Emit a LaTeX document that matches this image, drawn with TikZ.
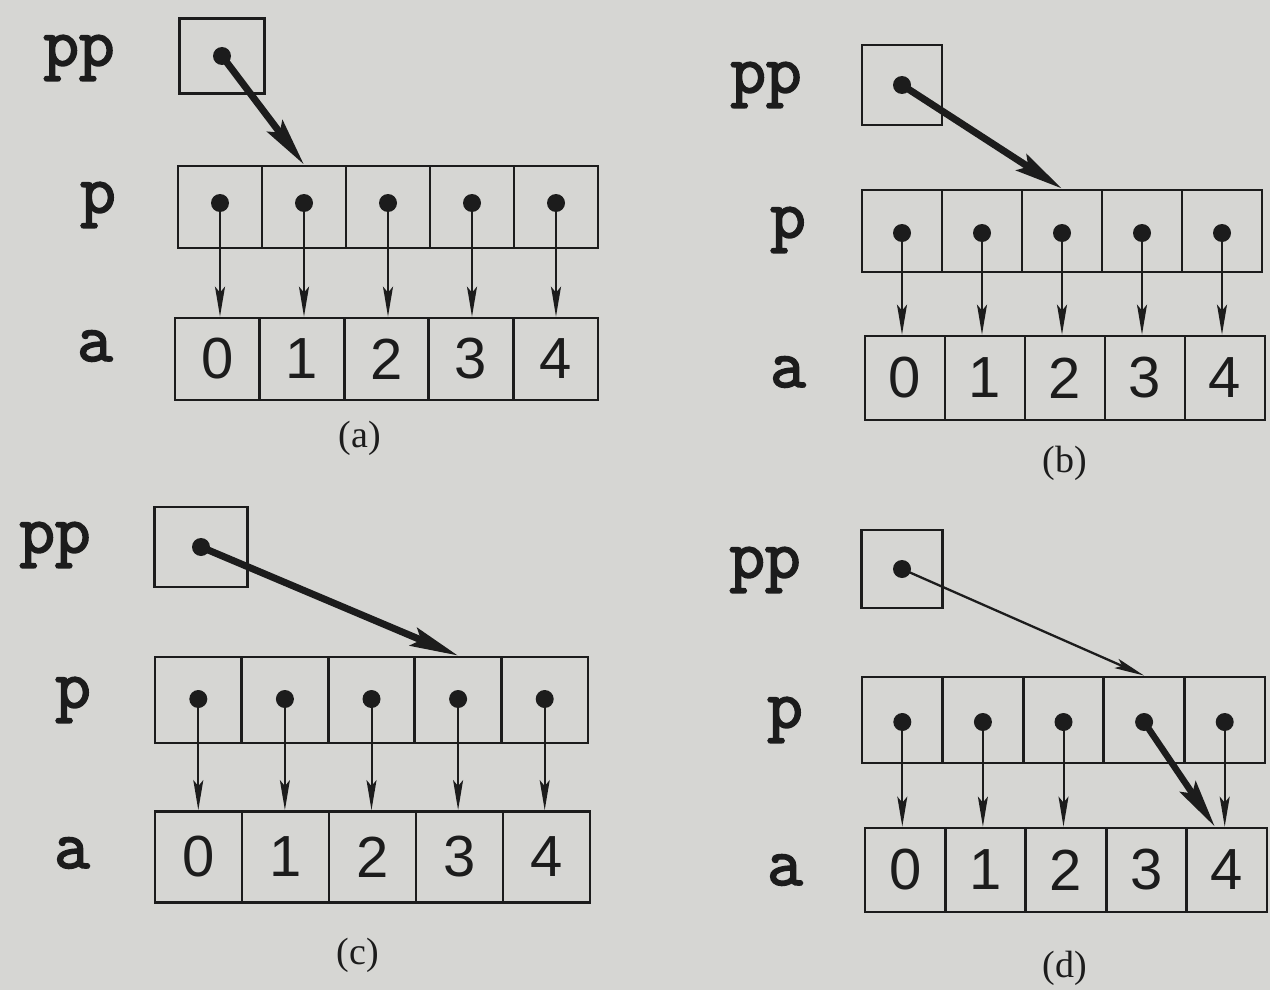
\documentclass[tikz,border=0pt]{standalone}
\usepackage{fontspec}
\newfontfamily\digfont{Liberation Sans}
\newfontfamily\capfont{Liberation Serif}
\usetikzlibrary{arrows.meta,calc}
\definecolor{bg}{RGB}{214,214,211}
\definecolor{ink}{RGB}{28,28,28}
\newcommand\strk[1]{\special{pdf:literal direct 2 Tr 1.8 w}#1\special{pdf:literal direct 0 Tr}}
\begin{document}
\begin{tikzpicture}[x=1pt,y=-1pt,
 box/.style={draw=ink,line width=2.8pt,rectangle,inner sep=0pt},
 dot/.style={circle,fill=ink,inner sep=0pt,minimum size=18pt},
 lab/.style={text=ink,font=\ttfamily\addfontfeatures{LetterSpace=9}\fontsize{69}{69}\selectfont,inner sep=0pt},
 dig/.style={text=ink,font=\digfont\fontsize{58}{58}\selectfont},
 captext/.style={text=ink,font=\capfont\fontsize{38}{38}\selectfont,inner sep=0pt},
 ptr/.style={draw=ink,line width=2pt,-{Stealth[length=30pt,width=10pt,inset=6pt]}},
 bigptr/.style={draw=ink,line width=7pt,-{Stealth[length=48pt,width=19pt,inset=8pt]}},
]
\fill[bg] (0,0) rectangle (1270,990);
\useasboundingbox (0,0) rectangle (1270,990);

% ---------------- (a)
\node[box,minimum width=85pt,minimum height=75pt] (Apb) at (222,56) {};
\node[dot] (Apd) at (Apb.center) {};
\node[lab] (Alpp) at (79,58) {\strk{pp}};
\node[lab] (Alp) at (98,205) {\strk{p}};
\node[lab] (Ala) at (95,346) {\strk{a}};
\foreach \i in {0,...,4}{
  \node[box,minimum width=84pt,minimum height=82pt] (Ap\i) at ({220+84*\i},207) {};
  \node[dot] (Apd\i) at ({220+84*\i},203) {};
  \node[box,dig,minimum width=84.6pt,minimum height=82pt] (Aa\i) at ({217.3+84.6*\i},359) {\i};
}
\foreach \i in {0,...,4}{
  \draw[ptr] (Apd\i.center) -- (Apd\i.center |- Aa\i.north);
}
\draw[bigptr] (Apd.center) -- (Ap1.north);
\node[captext] (Acap) at (360,438) {(a)};

% ---------------- (b)
\node[box,minimum width=80pt,minimum height=80pt] (Bpb) at (902,85) {};
\node[dot] (Bpd) at (Bpb.center) {};
\node[lab] (Blpp) at (766,85) {\strk{pp}};
\node[lab] (Blp) at (788,230) {\strk{p}};
\node[lab] (Bla) at (788,372) {\strk{a}};
\foreach \i in {0,...,4}{
  \node[box,minimum width=80pt,minimum height=82pt] (Bp\i) at ({902+80*\i},231) {};
  \node[dot] (Bpd\i) at ({902+80*\i},233) {};
  \node[box,dig,minimum width=80pt,minimum height=84pt] (Ba\i) at ({905+80*\i},378) {\i};
}
\foreach \i in {0,...,4}{
  \draw[ptr] (Bpd\i.center) -- (Bpd\i.center |- Ba\i.north);
}
\draw[bigptr] (Bpd.center) -- (Bp2.north);
\node[captext] (Bcap) at (1065,463) {(b)};

% ---------------- (c)
\node[box,minimum width=93pt,minimum height=80pt] (Cpb) at (201,547) {};
\node[dot] (Cpd) at (Cpb.center) {};
\node[lab] (Clpp) at (55,545) {\strk{pp}};
\node[lab] (Clp) at (73,700) {\strk{p}};
\node[lab] (Cla) at (72,853) {\strk{a}};
\foreach \i in {0,...,4}{
  \node[box,minimum width=86.6pt,minimum height=86pt] (Cp\i) at ({198.3+86.6*\i},700) {};
  \node[dot] (Cpd\i) at ({198.3+86.6*\i},699) {};
  \node[box,dig,minimum width=87pt,minimum height=91pt] (Ca\i) at ({198.5+87*\i},857) {\i};
}
\foreach \i in {0,...,4}{
  \draw[ptr] (Cpd\i.center) -- (Cpd\i.center |- Ca\i.north);
}
\draw[bigptr] (Cpd.center) -- (Cp3.north);
\node[captext] (Ccap) at (358,955) {(c)};

% ---------------- (d)
\node[box,minimum width=81pt,minimum height=78pt] (Dpb) at (902,569) {};
\node[dot] (Dpd) at (Dpb.center) {};
\node[lab] (Dlpp) at (765,570) {\strk{pp}};
\node[lab] (Dlp) at (785,720) {\strk{p}};
\node[lab] (Dla) at (785,870) {\strk{a}};
\foreach \i in {0,...,4}{
  \node[box,minimum width=80.6pt,minimum height=86pt] (Dp\i) at ({902.3+80.6*\i},720) {};
  \node[dot] (Dpd\i) at ({902.3+80.6*\i},722) {};
  \node[box,dig,minimum width=80.4pt,minimum height=84pt] (Da\i) at ({905.2+80.4*\i},870) {\i};
}
\foreach \i in {0,1,2,4}{
  \draw[ptr] (Dpd\i.center) -- (Dpd\i.center |- Da\i.north);
}
\coordinate (Dtip) at ($(Da4.north)+(-12,0)$);
\draw[ptr,line width=2.3pt] (Dpd.center) -- (Dp3.north);
\draw[bigptr,line width=6.5pt] (Dpd3.center) -- (Dtip);
\node[captext] (Dcap) at (1065,968) {(d)};
\end{tikzpicture}
\end{document}
